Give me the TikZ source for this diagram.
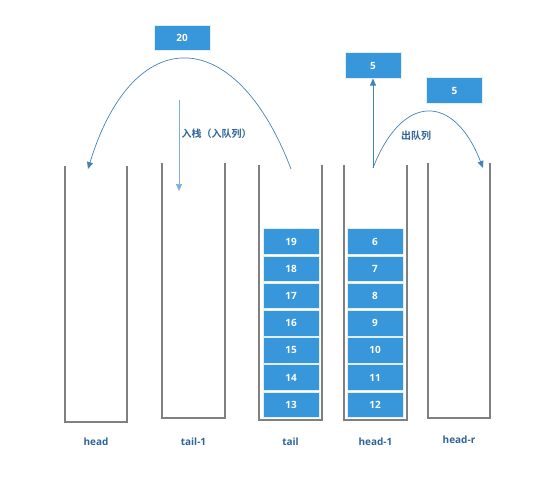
\documentclass[tikz,border=0pt]{standalone}
\usepackage{fontspec}
\setmainfont{Open Sans}
\newfontfamily\cjk{Noto Sans CJK SC}[BoldFont={Noto Sans CJK SC Bold}]
\usepackage{tikz}
\usetikzlibrary{arrows.meta}
\definecolor{cellblue}{RGB}{56,150,218}
\definecolor{labelblue}{RGB}{46,100,150}
\definecolor{arcblue}{RGB}{70,130,185}
\definecolor{pushblue}{RGB}{125,175,220}

\begin{document}
\begin{tikzpicture}[x=1pt, y=-1pt, font=\fontsize{10}{12}\selectfont,
  cell/.style={fill=cellblue, draw=white!85!cellblue, line width=0.6pt, text=white,
    minimum width=56pt, minimum height=25.5pt, inner sep=0pt, font=\fontsize{10}{12}\selectfont\bfseries},
  stackwall/.style={draw=black!50, line width=1.1pt},
  stackname/.style={text=labelblue, font=\fontsize{10}{12}\selectfont\bfseries},
  note/.style={text=labelblue, font=\fontsize{10}{12}\selectfont\cjk\bfseries},
  move/.style={draw=arcblue, line width=0.7pt, -{Triangle[length=7pt,width=6pt]}}]
\useasboundingbox (0,0) rectangle (557,484);

\foreach \name/\xl/\xr/\yt/\yb/\ylbl in {
head/65/127/166/422/442,
tail-1/162/225/163/418/442,
tail/259/322/165/420/442,
head-1/344/407/165/420/442,
head-r/428/490/163/418/440} {
  \draw[stackwall] (\xl,\yt) -- (\xl,\yb) -- (\xr,\yb) -- (\xr,\yt);
  \node[stackname] (\name-lbl) at ({(\xl+\xr)/2},\ylbl) {\name};
}

\foreach \v [count=\i] in {19,18,...,13}
  \node[cell] (t\v) at (291,{241.5+(\i-1)*27.2}) {\v};
\foreach \v [count=\i] in {6,...,12}
  \node[cell] (h\v) at (375,{241.5+(\i-1)*27.2}) {\v};

\node[cell] (in20) at (182,38) {20};
\node[cell] (out5) at (373,65.5) {5};
\node[cell] (q5) at (454.5,90.5) {5};

\coordinate (tail-top) at (291,169);
\coordinate (head-top) at (88,169);
\coordinate (push-from) at (179,100);
\coordinate (push-to) at (179,191);
\coordinate (pop-from) at (373,168);
\coordinate (headr-top) at (483,168);

\draw[move] (tail-top) .. controls (235,22) and (133,22) .. (head-top);
\draw[move, draw=pushblue] (push-from) -- (push-to);
\node[note, anchor=west] (push-lbl) at (178,134) {入栈（入队列）};

\draw[move] (pop-from) -- (out5.south);
\draw[move] (pop-from) .. controls (402,93) and (454,93) .. (headr-top);
\node[note] (pop-lbl) at (416,136) {出队列};
\end{tikzpicture}
\end{document}
